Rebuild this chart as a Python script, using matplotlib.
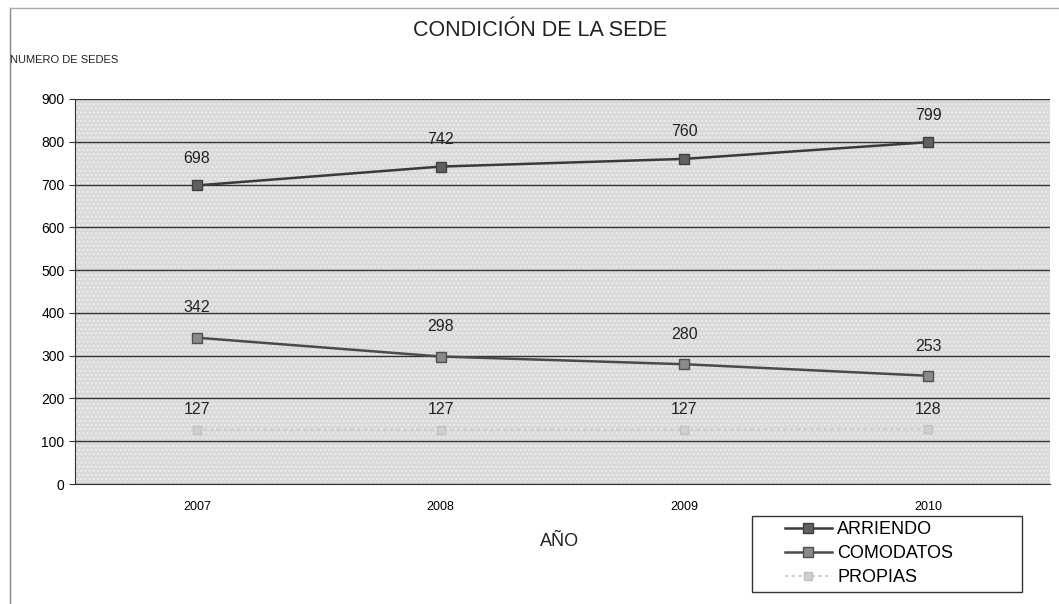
import matplotlib
matplotlib.use("Agg")
import matplotlib.pyplot as plt
from matplotlib.patches import Rectangle

years = ["2007", "2008", "2009", "2010"]
arriendo = [698, 742, 760, 799]
comodatos = [342, 298, 280, 253]
propias = [127, 127, 127, 128]

plt.rcParams['font.family'] = ['Liberation Sans', 'DejaVu Sans']

fig = plt.figure(figsize=(10.59, 6.04), dpi=100)
W, H = 1059, 604
ax = fig.add_axes([75 / W, 1 - 484 / H, (1050 - 75) / W, (484 - 99) / H])
ax.set_facecolor("#d9d9d9")
ax.add_patch(Rectangle((0, 0), 1, 1, transform=ax.transAxes, facecolor="none",
                       edgecolor="#eeeeee", hatch="....", lw=0, zorder=0))

x = list(range(len(years)))
ax.plot(x, arriendo, color="#3a3a3a", lw=1.8, marker="s", markersize=7,
        markerfacecolor="#606060", markeredgecolor="#404040", label="ARRIENDO", zorder=3)
ax.plot(x, comodatos, color="#4a4a4a", lw=1.8, marker="s", markersize=7,
        markerfacecolor="#8a8a8a", markeredgecolor="#505050", label="COMODATOS", zorder=3)
ax.plot(x, propias, color="#c8c8c8", lw=1.2, ls=(0, (2, 2)), marker="s", markersize=6,
        markerfacecolor="#d0d0d0", markeredgecolor="#c0c0c0", label="PROPIAS", zorder=3)

for xi, v in zip(x, arriendo):
    ax.annotate(str(v), (xi, v), xytext=(0, 14), textcoords="offset points",
                ha="center", va="bottom", fontsize=11.5, color="#222222")
for xi, v in zip(x, comodatos):
    ax.annotate(str(v), (xi, v), xytext=(0, 16), textcoords="offset points",
                ha="center", va="bottom", fontsize=11.5, color="#222222")
for xi, v in zip(x, propias):
    ax.annotate(str(v), (xi, v), xytext=(0, 9), textcoords="offset points",
                ha="center", va="bottom", fontsize=11.5, color="#222222")

ax.set_xlim(-0.5, 3.5)
ax.set_ylim(0, 900)
ax.set_yticks(range(0, 901, 100))
ax.set_xticks(x)
ax.set_xticklabels(years, fontsize=9)
ax.tick_params(axis="y", labelsize=10, length=4, color="#333333")
ax.tick_params(axis="x", length=0, pad=12)
ax.yaxis.grid(True, color="#333333", lw=1.0)
ax.set_axisbelow(True)
for s in ["top", "right"]:
    ax.spines[s].set_visible(False)
ax.spines["left"].set_color("#333333")
ax.spines["bottom"].set_color("#333333")

fig.text(540 / W, 1 - 30 / H, "CONDICIÓN DE LA SEDE", ha="center", va="center", fontsize=15.5, color="#222222")
fig.text(10 / W, 1 - 60 / H, "NUMERO DE SEDES", ha="left", va="center", fontsize=8, color="#222222")
fig.text(560 / W, 1 - 541 / H, "AÑO", ha="center", va="center", fontsize=13, color="#222222")

fig.add_artist(Rectangle((752 / W, 1 - 592 / H), (1022 - 752) / W, (592 - 516) / H,
                         transform=fig.transFigure, facecolor="white", edgecolor="#333333", lw=1.0))
leg = fig.legend(loc="upper left", bbox_to_anchor=(785 / W, 1 - 521 / H), fontsize=13,
                 frameon=False, handlelength=2.6, borderpad=0, labelspacing=0.4,
                 handletextpad=0.3, borderaxespad=0)

fig.add_artist(plt.Line2D([10 / W, 10 / W], [0, 1 - 8 / H], transform=fig.transFigure, color="#888888", lw=1))
fig.add_artist(plt.Line2D([10 / W, 1], [1 - 8 / H, 1 - 8 / H], transform=fig.transFigure, color="#aaaaaa", lw=1))

fig.savefig("out.png", dpi=100)
